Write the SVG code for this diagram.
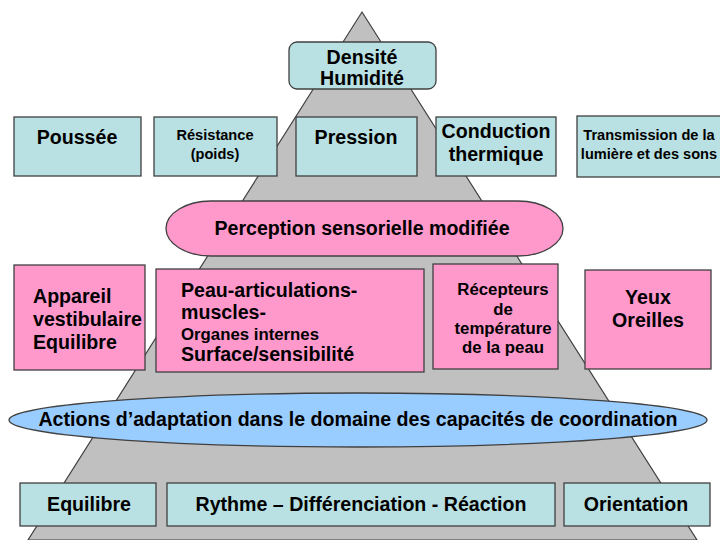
<svg xmlns="http://www.w3.org/2000/svg" width="720" height="540" viewBox="0 0 720 540">
<style>
.b{fill:#b9e0e2;stroke:#404040;stroke-width:1.3}
.p{fill:#ff99cc;stroke:#404040;stroke-width:1.3}
.e{fill:#99ccff;stroke:#404040;stroke-width:1.3}
text{font-family:"Liberation Sans",Arial,sans-serif;font-weight:bold;fill:#000}
.c{text-anchor:middle}
.l{font-size:19.6px}
.s{font-size:14.6px}
.m{font-size:16.8px}
</style>
<rect width="720" height="540" fill="#fff"/>
<g id="pyramid"><polygon points="362,12 697,540 28,540" fill="#c0c0c0" stroke="#404040" stroke-width="1.2"/></g>
<g id="connectors"></g>
<g id="densite"><rect class="b" x="289" y="42" width="147" height="47" rx="8"/><text class="c l" x="362" y="64">Densité</text><text class="c l" x="362" y="85">Humidité</text></g>
<g id="poussee"><rect class="b" x="14" y="117" width="127" height="59"/><text class="c l" x="77" y="144">Poussée</text></g>
<g id="resistance"><rect class="b" x="154" y="117" width="123" height="59"/><text class="c s" x="215" y="140">Résistance</text><text class="c s" x="215" y="159">(poids)</text></g>
<g id="pression"><rect class="b" x="296" y="117" width="121" height="59"/><text class="c l" x="356" y="144">Pression</text></g>
<g id="conduction"><rect class="b" x="436" y="117" width="120" height="59"/><text class="c l" x="496" y="138">Conduction</text><text class="c l" x="496" y="161">thermique</text></g>
<g id="transmission"><rect class="b" x="577" y="116" width="146" height="61"/><text class="c s" x="649" y="140">Transmission de la</text><text class="c s" x="649" y="159">lumière et des sons</text></g>
<g id="perception"><rect class="p" x="166" y="201" width="397" height="55" rx="45" ry="27.5"/><text class="c l" x="362" y="235">Perception sensorielle modifiée</text></g>
<g id="appareil"><rect class="p" x="14" y="265" width="131" height="105"/><text class="l" x="33" y="303">Appareil</text><text class="l" x="33" y="326">vestibulaire</text><text class="l" x="33" y="349">Equilibre</text></g>
<g id="peau"><rect class="p" x="156" y="269" width="268" height="103"/><text class="l" x="181" y="297">Peau-articulations-</text><text class="l" x="181" y="319">muscles-</text><text class="m" x="181" y="340">Organes internes</text><text class="l" x="181" y="361">Surface/sensibilité</text></g>
<g id="recepteurs"><rect class="p" x="433" y="264" width="125" height="105"/><text class="c m" x="503" y="295">Récepteurs</text><text class="c m" x="503" y="315">de</text><text class="c m" x="503" y="334">température</text><text class="c m" x="503" y="353">de la peau</text></g>
<g id="yeux"><rect class="p" x="585" y="270" width="126" height="99"/><text class="c l" x="648" y="304">Yeux</text><text class="c l" x="648" y="327">Oreilles</text></g>
<g id="actions"><ellipse class="e" cx="358" cy="420" rx="349" ry="27"/><text class="c l" x="358" y="426">Actions d’adaptation dans le domaine des capacités de coordination</text></g>
<g id="equilibre"><rect class="b" x="20" y="483" width="136" height="43"/><text class="c l" x="89" y="511">Equilibre</text></g>
<g id="rythme"><rect class="b" x="167" y="483" width="388" height="43"/><text class="c l" x="361" y="511">Rythme – Différenciation - Réaction</text></g>
<g id="orientation"><rect class="b" x="564" y="483" width="146" height="43"/><text class="c l" x="636" y="511">Orientation</text></g>
</svg>
